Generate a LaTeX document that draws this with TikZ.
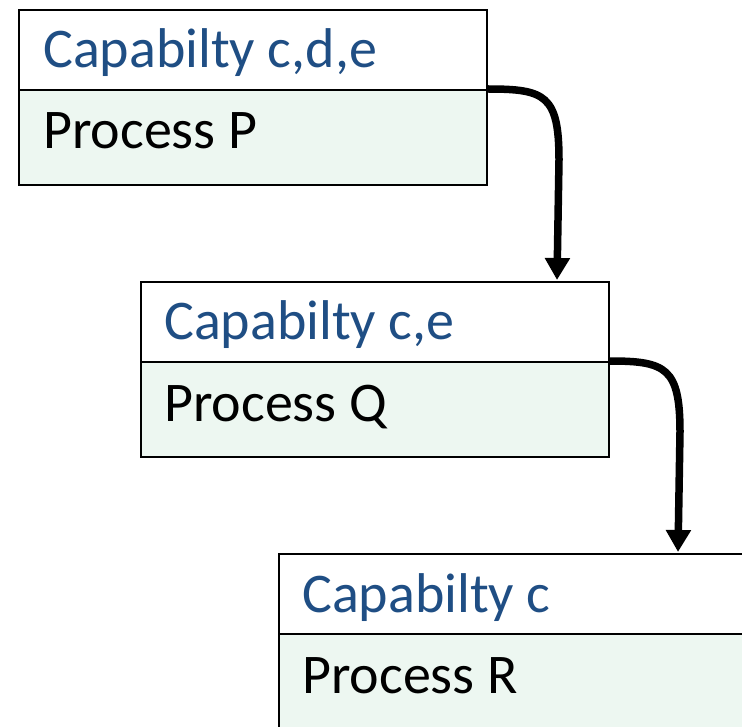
\documentclass[tikz,border=0pt]{standalone}
\usepackage{fontspec}
\setmainfont{Carlito}
\usetikzlibrary{arrows.meta}
\definecolor{capblue}{HTML}{1F4E84}
\definecolor{procfill}{HTML}{EDF7F1}
\tikzset{
  titlebox/.style={draw=black, line width=1.8pt, fill=white, minimum width=468pt, minimum height=80pt, anchor=north west, inner sep=0pt},
  bodybox/.style={draw=black, line width=1.8pt, fill=procfill, minimum width=468pt, minimum height=95pt, anchor=north west, inner sep=0pt},
  captext/.style={anchor=base west, inner sep=0pt, text=capblue, font=\fontsize{56}{62}\selectfont},
  proctext/.style={anchor=base west, inner sep=0pt, text=black, font=\fontsize{56}{62}\selectfont},
  flow/.style={line width=7.5pt, -{Triangle[width=24pt,length=22pt]}}
}
\begin{document}
\begin{tikzpicture}[x=1pt,y=-1pt]
\useasboundingbox (0,0) rectangle (742,727);
\clip (0,0) rectangle (742,727);
% box 1
\node[bodybox] (b1) at (18,89) {};
\node[titlebox] (t1) at (18,9) {};
\node[captext] (c1) at (43,68) {Capabilty c,d,e};
\node[proctext] (p1) at (43,149) {Process P};
% box 2
\node[bodybox] (b2) at (140,361) {};
\node[titlebox] (t2) at (140,281) {};
\node[captext] (c2) at (164,340) {Capabilty c,e};
\node[proctext] (p2) at (164,421) {Process Q};
% box 3
\node[bodybox] (b3) at (278,633) {};
\node[titlebox] (t3) at (278,553) {};
\node[captext] (c3) at (302,612) {Capabilty c};
\node[proctext] (p3) at (302,693) {Process R};
% connectors
\coordinate (e1) at (557,280);
\coordinate (e2) at (678,552);
\draw[flow] (b1.north east) .. controls (545,89) and (559,95) .. (559,160) -- (e1);
\draw[flow] (b2.north east) .. controls (666,361) and (680,368) .. (680,432) -- (e2);
\end{tikzpicture}
\end{document}
